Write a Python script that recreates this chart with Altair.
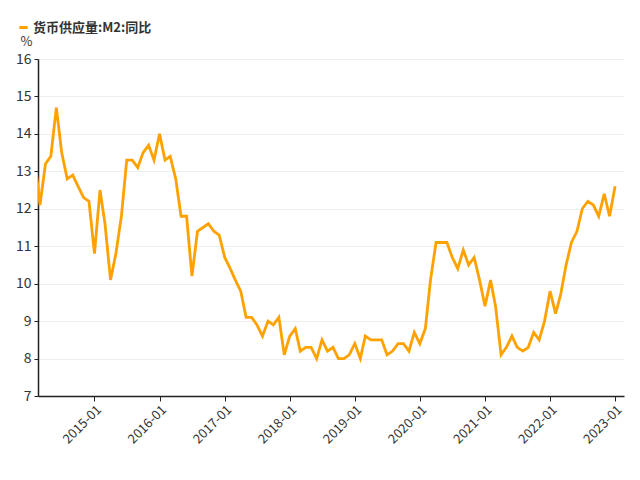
import altair as alt
import pandas as pd

months = pd.date_range("2014-02-01", "2023-01-01", freq="MS").strftime("%Y-%m-%d").tolist()

m2_yoy = [
    13.3, 12.1, 13.2, 13.4, 14.7, 13.5, 12.8, 12.9, 12.6, 12.3, 12.2,
    10.8, 12.5, 11.6, 10.1, 10.8, 11.8, 13.3, 13.3, 13.1, 13.5, 13.7, 13.3,
    14.0, 13.3, 13.4, 12.8, 11.8, 11.8, 10.2, 11.4, 11.5, 11.6, 11.4, 11.3,
    10.7, 10.4, 10.1, 9.8, 9.1, 9.1, 8.9, 8.6, 9.0, 8.9, 9.1, 8.1,
    8.6, 8.8, 8.2, 8.3, 8.3, 8.0, 8.5, 8.2, 8.3, 8.0, 8.0, 8.1,
    8.4, 8.0, 8.6, 8.5, 8.5, 8.5, 8.1, 8.2, 8.4, 8.4, 8.2, 8.7,
    8.4, 8.8, 10.1, 11.1, 11.1, 11.1, 10.7, 10.4, 10.9, 10.5, 10.7, 10.1,
    9.4, 10.1, 9.4, 8.1, 8.3, 8.6, 8.3, 8.2, 8.3, 8.7, 8.5, 9.0,
    9.8, 9.2, 9.7, 10.5, 11.1, 11.4, 12.0, 12.2, 12.1, 11.8, 12.4, 11.8,
    12.6,
]

series_name = "货币供应量:M2:同比"
tick_years = list(range(2015, 2024))
y_ticks = [7, 8, 9, 10, 11, 12, 13, 14, 15, 16]

df = pd.DataFrame({"date": months, "value": m2_yoy, "series": series_name})

FONT = "Noto Sans CJK SC"
ORANGE = "#FFA200"

chart = (
    alt.Chart(df)
    .mark_line(color=ORANGE, strokeWidth=2.8, clip=True)
    .encode(
        x=alt.X(
            "date:T",
            scale=alt.Scale(
                type="utc",
                domain=[
                    alt.DateTime(year=2014, month=2, date=18, utc=True),
                    alt.DateTime(year=2023, month=2, date=20, utc=True),
                ],
            ),
            axis=alt.Axis(
                title=None,
                values=[alt.DateTime(year=y, month=1, date=1, utc=True) for y in tick_years],
                format="%Y-%m",
                labelAngle=-45,
                labelAlign="right",
                labelBaseline="top",
                labelFont=FONT,
                labelFontSize=13,
                labelColor="#333333",
                domainColor="#222222",
                domainWidth=1.5,
                tickColor="#222222",
                tickSize=5,
                grid=False,
                labelPadding=2,
            ),
        ),
        y=alt.Y(
            "value:Q",
            scale=alt.Scale(domain=[7, 16], nice=False, zero=False),
            axis=alt.Axis(
                title="%",
                titleAngle=0,
                titleX=-12,
                titleY=-11,
                titleAlign="center",
                titleBaseline="bottom",
                titleFont=FONT,
                titleFontSize=13,
                titleFontWeight="normal",
                titleColor="#333333",
                values=y_ticks,
                labelFont=FONT,
                labelFontSize=14,
                labelColor="#333333",
                domainColor="#222222",
                domainWidth=1.5,
                tickColor="#222222",
                tickSize=4,
                labelPadding=3,
                gridColor="#eeeeee",
                gridWidth=1,
            ),
        ),
        color=alt.Color(
            "series:N",
            scale=alt.Scale(domain=[series_name], range=[ORANGE]),
            legend=alt.Legend(
                orient="none",
                legendX=-21,
                legendY=-38,
                title=None,
                padding=0,
                symbolType="stroke",
                symbolStrokeWidth=3,
                symbolSize=70,
                labelOffset=3,
                labelFont=FONT,
                labelFontSize=13,
                labelFontWeight="bold",
                labelColor="#333333",
            ),
        ),
    )
    .properties(
        width=586,
        height=337,
        padding={"left": 38, "top": 59, "right": 16, "bottom": 84},
        autosize=alt.AutoSizeParams(type="none"),
    )
    .configure_view(stroke=None)
)

chart.save("out.html", embed_options={"renderer": "svg", "actions": False})
